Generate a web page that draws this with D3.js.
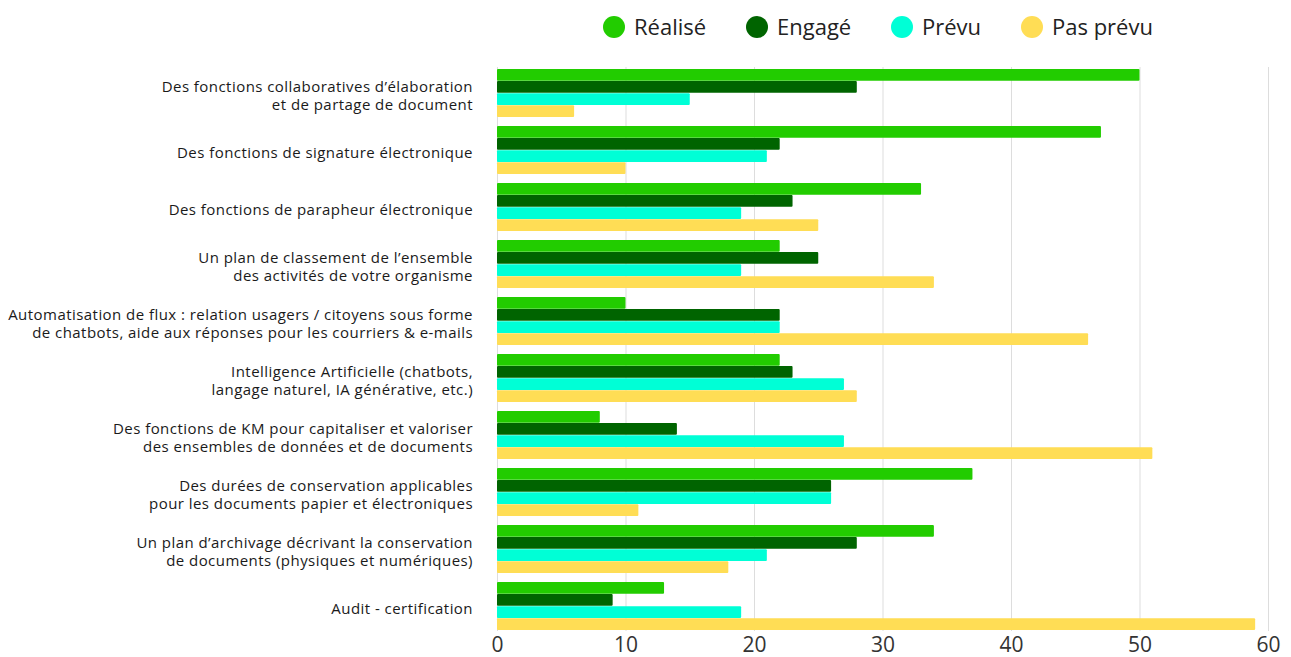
<!DOCTYPE html>
<html lang="fr">
<head>
  <meta charset="UTF-8">
  <title>Fonctions GED</title>
  <script src="https://d3js.org/d3.v7.min.js"></script>
  <style>
    body { margin: 0; background: #fff; }
    .cat { font-family: "Open Sans", sans-serif; font-size: 15px; letter-spacing: 0.45px; fill: #1a1a1a; }
    .legend text { font-family: "Open Sans", sans-serif; font-size: 22px; fill: #222; }
    .x.axis text { font-family: "Open Sans", sans-serif; font-size: 21px; fill: #333; }
    .grid line { stroke: #ddd; }
  </style>
</head>
<body>
  <div id="chart"></div>
  <script>
    const categories = [
      ["Des fonctions collaboratives d’élaboration", "et de partage de document"],
      ["Des fonctions de signature électronique"],
      ["Des fonctions de parapheur électronique"],
      ["Un plan de classement de l’ensemble", "des activités de votre organisme"],
      ["Automatisation de flux : relation usagers / citoyens sous forme", "de chatbots, aide aux réponses pour les courriers & e-mails"],
      ["Intelligence Artificielle (chatbots,", "langage naturel, IA générative, etc.)"],
      ["Des fonctions de KM pour capitaliser et valoriser", "des ensembles de données et de documents"],
      ["Des durées de conservation applicables", "pour les documents papier et électroniques"],
      ["Un plan d’archivage décrivant la conservation", "de documents (physiques et numériques)"],
      ["Audit - certification"]
    ];
    const seriesNames = ["Réalisé", "Engagé", "Prévu", "Pas prévu"];
    const colors = ["#22cc00", "#006400", "#00ffd6", "#ffdd55"];

    const realise  = [50, 47, 33, 22, 10, 22, 8, 37, 34, 13];
    const engage   = [28, 22, 23, 25, 22, 23, 14, 26, 28, 9];
    const prevu    = [15, 21, 19, 19, 22, 27, 27, 26, 21, 19];
    const pasPrevu = [6, 10, 25, 34, 46, 28, 51, 11, 18, 59];
    const xTicks = [0, 10, 20, 30, 40, 50, 60];

    const series = [realise, engage, prevu, pasPrevu];
    const W = 1291, H = 657;

    const svg = d3.select("#chart").append("svg")
      .attr("width", W).attr("height", H);

    const x = d3.scaleLinear().domain([0, 60]).range([497, 1268]);

    const y0 = d3.scaleBand()
      .domain(d3.range(categories.length))
      .range([64.5, 634.5])
      .paddingInner(0.158)
      .paddingOuter(0.079);

    const y1 = d3.scaleBand()
      .domain(d3.range(seriesNames.length))
      .range([0, y0.bandwidth()])
      .paddingInner(0.03);

    // grid
    svg.append("g").attr("class", "grid")
      .selectAll("line").data(xTicks).join("line")
      .attr("x1", d => x(d) + 0.5).attr("x2", d => x(d) + 0.5)
      .attr("y1", 67).attr("y2", 631);

    // bars
    const groups = svg.append("g").selectAll("g")
      .data(categories).join("g")
      .attr("transform", (d, i) => `translate(0,${y0(i)})`);

    groups.selectAll("rect")
      .data((d, i) => series.map((s, k) => ({ k, v: s[i] })))
      .join("rect")
      .attr("x", x(0))
      .attr("y", d => y1(d.k))
      .attr("width", d => x(d.v) - x(0))
      .attr("height", y1.bandwidth())
      .attr("rx", 1)
      .attr("fill", d => colors[d.k]);

    // category labels
    groups.append("text")
      .attr("class", "cat")
      .attr("text-anchor", "end")
      .attr("x", 473)
      .selectAll("tspan")
      .data(d => d.map((t, j) => ({ t, j, n: d.length })))
      .join("tspan")
      .attr("x", 473)
      .attr("y", d => y0.bandwidth() / 2 + 2.5 + (d.j - (d.n - 1) / 2) * 18)
      .attr("dy", "0.35em")
      .text(d => d.t);

    // x axis
    const xAxis = svg.append("g").attr("class", "x axis")
      .attr("transform", "translate(0,634)")
      .call(d3.axisBottom(x).tickValues(xTicks).tickSize(0).tickPadding(3));
    xAxis.select(".domain").remove();

    // legend
    const legendX = [614, 757, 902, 1032];
    const legend = svg.append("g").attr("class", "legend")
      .selectAll("g").data(seriesNames).join("g")
      .attr("transform", (d, i) => `translate(${legendX[i]},27)`);
    legend.append("circle").attr("r", 11).attr("fill", (d, i) => colors[i]);
    legend.append("text").attr("x", 20).attr("dy", "0.35em").text(d => d);
  </script>
</body>
</html>
